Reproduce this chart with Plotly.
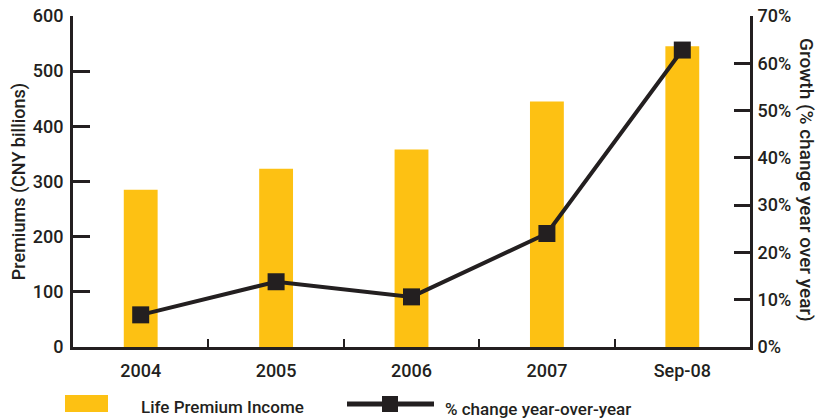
import plotly.graph_objects as go

# Life premium income (CNY billions) and year-over-year growth (%)
periods = ["2004", "2005", "2006", "2007", "Sep-08"]
premium_income = [285, 323, 358, 445, 545]
growth_pct = [6.8, 13.8, 10.6, 24.0, 62.8]
left_ticks = [0, 100, 200, 300, 400, 500, 600]
right_ticks = [0, 10, 20, 30, 40, 50, 60, 70]

W, H = 817, 419
L, R, T, B = 73, 67, 16, 72
INK = "#231F20"
GOLD = "#FDC113"
FONT = "Roboto, Liberation Sans, Arial, sans-serif"
FS = 18
FW = 500

def tfont(size=FS):
    return dict(size=size, color=INK, family=FONT, weight=FW)

fig = go.Figure()
fig.add_trace(go.Bar(
    x=periods, y=premium_income, name="Life Premium Income",
    marker=dict(color=GOLD, line=dict(width=0)), width=0.25,
    yaxis="y", showlegend=False,
))
fig.add_trace(go.Scatter(
    x=periods, y=growth_pct, name="% change year-over-year",
    mode="lines+markers", yaxis="y2",
    line=dict(color=INK, width=4),
    marker=dict(symbol="square", size=17, color=INK),
    showlegend=False,
))

# pixel -> paper helpers for the hand-built legend and right title
pw, ph = W - L - R, H - T - B
def px(x):
    return (x - L) / pw
def py(y):
    return (H - B - y) / ph

shapes = [
    dict(type="rect", xref="paper", yref="paper",
         x0=px(65), x1=px(108), y0=py(412), y1=py(395),
         fillcolor=GOLD, line=dict(width=0)),
    dict(type="line", xref="paper", yref="paper",
         x0=px(347), x1=px(434), y0=py(404), y1=py(404),
         line=dict(color=INK, width=5)),
    dict(type="rect", xref="paper", yref="paper",
         x0=px(382), x1=px(398), y0=py(412), y1=py(396),
         fillcolor=INK, line=dict(width=0)),
]
annotations = [
    dict(text="Life Premium Income", xref="paper", yref="paper",
         x=px(139), y=py(407), xanchor="left", yanchor="middle",
         showarrow=False, font=tfont(17)),
    dict(text="% change year-over-year", xref="paper", yref="paper",
         x=px(443), y=py(409), xanchor="left", yanchor="middle",
         showarrow=False, font=tfont(17)),
    # right-hand axis title, read top to bottom
    dict(text="Growth (% change year over year)", xref="paper", yref="paper",
         x=px(807), y=py(180), xanchor="center", yanchor="middle",
         textangle=90, showarrow=False, font=tfont(19)),
]

fig.update_layout(
    width=W, height=H,
    margin=dict(l=L, r=R, t=T, b=B, pad=0, autoexpand=False),
    paper_bgcolor="white", plot_bgcolor="white",
    font=tfont(),
    showlegend=False,
    shapes=shapes, annotations=annotations,
    xaxis=dict(
        type="category", range=[-0.5, 4.5], automargin=False,
        tickson="boundaries", ticks="inside", ticklen=8, tickwidth=2,
        tickcolor=INK, showgrid=False, zeroline=False,
        showline=True, linecolor=INK, linewidth=3,
        ticklabelstandoff=5,
        tickfont=tfont(),
    ),
    yaxis=dict(
        range=[0, 600], tickvals=left_ticks, automargin=False,
        ticks="inside", ticklen=17, tickwidth=3, tickcolor=INK,
        showgrid=False, zeroline=False,
        showline=True, linecolor=INK, linewidth=3,
        ticklabelstandoff=3,
        title=dict(text="Premiums (CNY billions)", standoff=3, font=tfont()),
        tickfont=tfont(),
    ),
    yaxis2=dict(
        range=[0, 70], tickvals=right_ticks, automargin=False,
        ticktext=[f"{v}%" for v in right_ticks],
        overlaying="y", side="right",
        ticks="inside", ticklen=16, tickwidth=3, tickcolor=INK,
        showgrid=False, zeroline=False,
        showline=True, linecolor=INK, linewidth=3,
        ticklabelstandoff=1,
        tickfont=tfont(),
    ),
)

fig.write_html("out.html")
